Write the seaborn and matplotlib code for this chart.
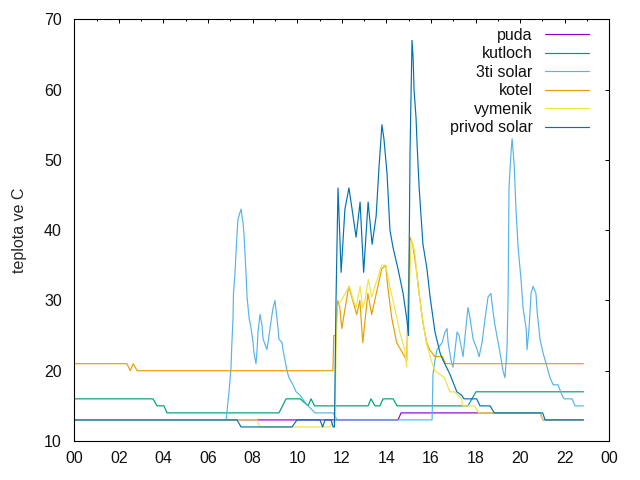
import numpy as np
import pandas as pd
import matplotlib
matplotlib.use('Agg')
import matplotlib.pyplot as plt
from matplotlib.ticker import MultipleLocator
import seaborn as sns

# temperature log, time in hours of the day
names = ['puda', 'kutloch', '3ti solar', 'kotel', 'vymenik', 'privod solar']
colors = ['#9400d3', '#009e73', '#56b4e9', '#e69f00', '#f0e442', '#0072b2']

puda_t = [0, 14.52, 14.66, 20.89, 21.02, 22.84]
puda_v = [13, 13, 14, 14, 13, 13]

kutloch_t = [0, 3.53, 3.71, 4.02, 4.16, 9.18, 9.50, 10.13, 10.49, 10.62, 10.78,
             13.18, 13.31, 13.49, 13.71, 13.85, 14.30, 14.48, 17.66, 18.02, 22.84]
kutloch_v = [16, 16, 15, 15, 14, 14, 16, 16, 15, 16, 15,
             15, 16, 15, 15, 16, 16, 15, 15, 17, 17]

solar3_t = [0, 6.81, 6.94, 7.03, 7.07, 7.12, 7.14, 7.21, 7.25, 7.30,
            7.34, 7.43, 7.48, 7.57, 7.61, 7.66, 7.70, 7.75, 7.84, 7.93,
            8.02, 8.06, 8.15, 8.20, 8.24, 8.33, 8.42, 8.47, 8.64, 8.69,
            8.78, 8.87, 8.92, 9.00, 9.09, 9.14, 9.18, 9.32, 9.36, 9.45,
            9.54, 9.63, 9.81, 9.95, 10.13, 10.35, 10.49, 10.80, 11.61, 11.79,
            16.05, 16.09, 16.18, 16.27, 16.50, 16.63, 16.72, 16.77, 16.90, 16.99,
            17.08, 17.17, 17.26, 17.35, 17.44, 17.53, 17.66, 17.75, 17.89, 18.07,
            18.16, 18.29, 18.43, 18.56, 18.69, 18.78, 18.87, 19.10, 19.23, 19.32,
            19.41, 19.46, 19.48, 19.50, 19.59, 19.64, 19.73, 19.82, 19.91, 20.04,
            20.13, 20.27, 20.31, 20.40, 20.49, 20.58, 20.71, 20.76, 20.89, 21.03,
            21.21, 21.34, 21.48, 21.70, 21.88, 21.97, 22.33, 22.46, 22.84]
solar3_v = [13, 13, 17, 20.5, 24, 27.5, 31, 34, 36.5, 39.5,
            41.5, 42.5, 43, 41, 39.5, 36.5, 34, 30.5, 27.5, 26,
            24, 22.5, 21, 23, 25.5, 28, 26.5, 24.5, 23, 24,
            26, 28, 29, 30, 27.5, 26, 24.5, 24, 23, 21.5,
            20, 19, 18, 17, 16.5, 15.5, 15, 14, 14, 13,
            13, 19.5, 21.5, 23, 24, 25.5, 26, 24, 21.5, 20.5,
            23, 25.5, 25, 23.5, 22, 25, 29, 27.5, 24.5, 23,
            22, 24, 27.5, 30.5, 31, 28.5, 26.5, 22.5, 20, 19,
            23, 30.5, 38, 46, 51, 53, 49.5, 42.5, 37.5, 33,
            29, 26, 23, 26, 31, 32, 31, 28.5, 24.5, 22.5,
            20.5, 19, 18, 18, 16.5, 16, 16, 15, 15]

kotel_t = [0, 2.36, 2.51, 2.64, 2.82, 11.60, 11.64, 11.73, 11.82, 11.91,
           12.00, 12.31, 12.67, 12.81, 12.94, 13.17, 13.34, 13.79, 13.97, 14.06,
           14.24, 14.46, 14.73, 14.91, 15.05, 15.18, 15.36, 15.49, 15.63, 15.81,
           15.94, 16.17, 16.52, 16.66, 22.84]
kotel_v = [21, 21, 20, 21, 20, 20, 25, 25, 30, 29,
           26, 32, 28, 30, 24, 31, 28, 34.5, 35, 32,
           27.5, 24, 22.5, 21.5, 39, 38, 34, 30.5, 27, 24,
           23, 22, 22, 21, 21]

vymenik_t = [0, 8.19, 8.33, 11.46, 11.69, 11.78, 12.34, 12.52, 12.64, 12.82,
             12.94, 13.04, 13.19, 13.34, 13.49, 13.79, 13.97, 14.15, 14.37, 14.60,
             14.82, 14.91, 15.11, 15.27, 15.42, 15.57, 15.79, 16.01, 16.17, 16.39,
             16.61, 16.84, 17.06, 17.37, 17.42, 17.96, 18.14, 20.87, 21.02, 22.84]
vymenik_v = [13, 13, 12, 12, 13, 29, 32, 30, 29, 32,
             29, 30, 33, 30.5, 32, 35, 35, 32, 29, 25.5,
             23, 20.5, 38.5, 37, 32, 28.5, 24, 21.5, 20, 19.5,
             19, 17, 17, 16, 15, 15, 14, 14, 13, 13]

privod_t = [0, 7.30, 7.48, 9.77, 9.99, 11.02, 11.14, 11.25, 11.52, 11.61,
            11.67, 11.74, 11.83, 11.97, 12.14, 12.32, 12.46, 12.64, 12.82, 12.98,
            13.18, 13.36, 13.54, 13.67, 13.80, 13.89, 14.03, 14.16, 14.30, 14.52,
            14.75, 14.93, 14.99, 15.06, 15.15, 15.20, 15.24, 15.33, 15.38, 15.47,
            15.64, 15.82, 15.96, 16.18, 16.41, 16.54, 16.85, 17.16, 17.38, 17.48,
            18.05, 18.20, 18.65, 18.84, 21.01, 21.12, 22.84]
privod_v = [13, 13, 12, 12, 13, 13, 12, 13, 13, 12,
            12, 30, 46, 34, 43, 46, 43, 39, 44, 34,
            44, 38, 42, 49, 55, 53, 48, 40, 37.5, 34.5,
            31, 27, 25, 51, 67, 64.5, 60, 56, 52, 46,
            38, 34.5, 30.5, 25.5, 22.5, 21.5, 19.5, 17, 16.5, 16,
            16, 15, 15, 14, 14, 13, 13]

xticks = np.arange(0, 25, 2)
xtick_labels = ['00', '02', '04', '06', '08', '10', '12', '14', '16', '18', '20', '22', '00']

series = [(puda_t, puda_v), (kutloch_t, kutloch_v), (solar3_t, solar3_v),
          (kotel_t, kotel_v), (vymenik_t, vymenik_v), (privod_t, privod_v)]
df = pd.concat([pd.DataFrame({'hodina': t, 'teplota': v, 'cidlo': n})
                for n, (t, v) in zip(names, series)], ignore_index=True)

sns.set_theme(style='white')
plt.rcParams['font.family'] = ['Liberation Sans', 'DejaVu Sans']
plt.rcParams['font.size'] = 11.5
plt.rcParams['text.color'] = '#111111'

fig = plt.figure(figsize=(6.4, 4.8), dpi=100)
ax = fig.add_axes([74.3 / 640, 1 - 441 / 480, 535 / 640, 421.7 / 480])

sns.lineplot(data=df, x='hodina', y='teplota', hue='cidlo', hue_order=names,
             palette=colors, estimator=None, sort=False, linewidth=0.85, ax=ax)

ax.set_xlim(0, 24)
ax.set_ylim(10, 70)
ax.set_xticks(xticks)
ax.set_xticklabels(xtick_labels)
ax.xaxis.set_minor_locator(MultipleLocator(1))
ax.set_yticks(np.arange(10, 71, 10))
ax.set_xlabel('')
ax.set_ylabel('teplota ve C', fontsize=11.5, labelpad=12)

for s in ax.spines.values():
    s.set_color('black')
    s.set_linewidth(0.8)
ax.tick_params(which='both', direction='in', top=True, right=True,
               colors='black', labelcolor='#111111', labelsize=11.5, width=0.7)
ax.tick_params(which='major', length=3.2)
ax.tick_params(axis='x', which='major', pad=7)
ax.tick_params(axis='y', which='major', pad=9)
ax.tick_params(which='minor', length=1.6)

handles, labels = ax.get_legend_handles_labels()
ax.legend(handles, labels, loc='upper right', bbox_to_anchor=(0.9626, 0.980),
          frameon=False, markerfirst=False, borderpad=0, borderaxespad=0,
          handlelength=2.75, handletextpad=0.8, labelspacing=0.22, fontsize=11.5)

fig.savefig('out.png', dpi=100)
